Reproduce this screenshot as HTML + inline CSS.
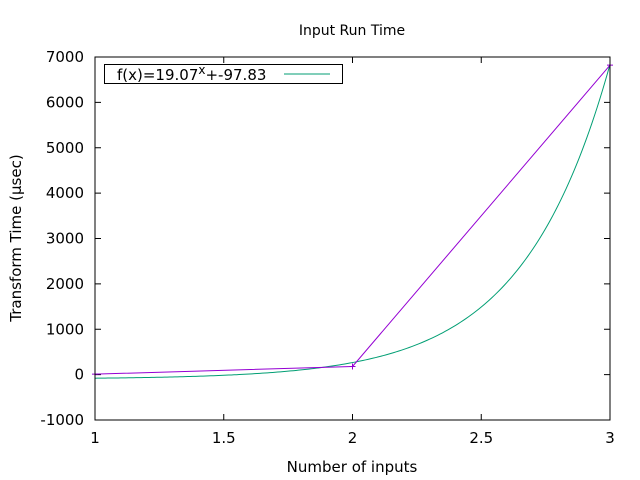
<!DOCTYPE html>
<html><head><meta charset="utf-8"><style>
body{margin:0;background:#fff}
svg{display:block;font-family:"DejaVu Sans","Liberation Sans",sans-serif;font-size:15px}
</style></head><body>
<svg id="chart" width="640" height="480" viewBox="0 0 640 480" xmlns="http://www.w3.org/2000/svg">
<text x="352" y="35" text-anchor="middle" font-size="14">Input Run Time</text>
<text x="352" y="472" text-anchor="middle">Number of inputs</text>
<text transform="translate(21,238) rotate(-90)" text-anchor="middle">Transform Time (µsec)</text>
<g id="ticks"></g>
<g id="marks"></g>
<rect x="95" y="57" width="515" height="363" fill="none" stroke="#000" stroke-width="1"/>
<g>
<rect x="104.5" y="64.5" width="238" height="19" fill="#fff" stroke="#000"/>
<text x="117" y="80">f(x)=19.07<tspan dy="-6" font-size="12">x</tspan><tspan dy="6">+-97.83</tspan></text>
<line x1="284" y1="74" x2="330" y2="74" stroke="#009e73" stroke-width="1"/>
</g>
</svg>
<script>
const xTicks=[1,1.5,2,2.5,3];
const xTickLabels=["1","1.5","2","2.5","3"];
const yTicks=[-1000,0,1000,2000,3000,4000,5000,6000,7000];
const yTickLabels=["-1000","0","1000","2000","3000","4000","5000","6000","7000"];
const dataX=[1,2,3];
const dataY=[10,180,6820];
const fitBase=19.07, fitOffset=-97.83;
const NS="http://www.w3.org/2000/svg";
const X=v=>95+(v-1)/2*515;
const Y=v=>420-(v+1000)/8000*363;
function mk(t,a,p){const e=document.createElementNS(NS,t);for(const k in a)e.setAttribute(k,a[k]);p.appendChild(e);return e;}
const tg=document.getElementById('ticks'), mg=document.getElementById('marks');
xTicks.forEach((v,i)=>{const x=X(v);
 const l=mk('path',{d:`M${x},420v-6M${x},57v6`,stroke:'#000',fill:'none'},tg);
 
 
 const t=mk('text',{x:x,y:443,'text-anchor':'middle'},tg);t.textContent=xTickLabels[i];
 
 
});
yTicks.forEach((v,i)=>{const y=Y(v);
 const l=mk('path',{d:`M95,${y}h6M610,${y}h-6`,stroke:'#000',fill:'none'},tg);
 
 
 const t=mk('text',{x:84,y:y+5,'text-anchor':'end'},tg);t.textContent=yTickLabels[i];
 
 
});
let d='';for(let i=0;i<=200;i++){const xv=1+2*i/200;const yv=Math.pow(fitBase,xv)+fitOffset;d+=(i?'L':'M')+X(xv).toFixed(2)+','+Y(yv).toFixed(2);}
const c=mk('path',{d:d,stroke:'#009e73',fill:'none','stroke-width':1},mg);


const ln=mk('path',{d:dataX.map((v,i)=>(i?'L':'M')+X(v)+','+Y(dataY[i])).join(''),stroke:'#9400d3',fill:'none','stroke-width':1},mg);


dataX.forEach((v,i)=>{const x=X(v),y=Y(dataY[i]);
 const p=mk('path',{d:`M${x-3},${y}h6M${x},${y-3}v6`,stroke:'#9400d3',fill:'none'},mg);
 
 
});
</script>
</body></html>
